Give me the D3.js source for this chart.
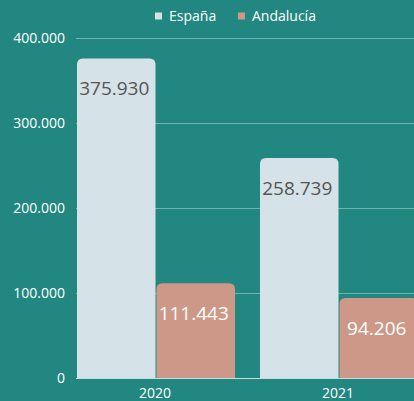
<!DOCTYPE html>
<html>
<head>
<meta charset="utf-8">
<script src="https://cdn.jsdelivr.net/npm/d3@7"></script>
<style>
  html, body { margin: 0; padding: 0; background: #218780; overflow: hidden; }
  svg { display: block; font-family: "Open Sans", sans-serif; }
</style>
</head>
<body>
<svg id="chart"></svg>
<script>
const width = 414;
const height = 401;

// data
const years = ["2020", "2021"];
const seriesNames = ["España", "Andalucía"];
const espana = [375930, 258739];
const andalucia = [111443, 94206];
const yTicks = [0, 100000, 200000, 300000, 400000];

const colors = { "España": "#d5e2e7", "Andalucía": "#cd9888" };
const labelColors = { "España": "#555555", "Andalucía": "#ffffff" };

const svg = d3.select("#chart")
  .attr("width", width)
  .attr("height", height)
  .attr("viewBox", [0, 0, width, height]);

const fmt = v => d3.format(",")(v).replace(/,/g, ".");

const x0 = d3.scaleBand()
  .domain(years)
  .range([77, 418])
  .paddingInner(0.1366)
  .paddingOuter(0);

const x1 = d3.scaleBand()
  .domain(seriesNames)
  .range([0, x0.bandwidth()])
  .paddingInner(0.012);

const y = d3.scaleLinear()
  .domain([0, 400000])
  .range([378, 38]);

// grid
svg.append("g")
  .selectAll("line")
  .data(yTicks.filter(d => d > 0))
  .join("line")
  .attr("x1", 76)
  .attr("x2", width)
  .attr("y1", d => y(d) + 0.5)
  .attr("y2", d => y(d) + 0.5)
  .attr("stroke", "#6fb3ad")
  .attr("stroke-width", 1);

// y labels
svg.append("g")
  .selectAll("text")
  .data(yTicks)
  .join("text")
  .attr("x", 65)
  .attr("y", d => y(d))
  .attr("dy", "0.35em")
  .attr("text-anchor", "end")
  .attr("fill", "#ffffff")
  .style("font-size", "14px")
  .text(d => fmt(d));

const rows = years.map((yr, i) => ({
  year: yr,
  values: [
    { key: "España", value: espana[i] },
    { key: "Andalucía", value: andalucia[i] }
  ]
}));

// bar with rounded top corners
function barPath(x, y0, w, h, r) {
  return `M${x},${y0 + h}V${y0 + r}Q${x},${y0} ${x + r},${y0}H${x + w - r}Q${x + w},${y0} ${x + w},${y0 + r}V${y0 + h}Z`;
}

const groups = svg.append("g")
  .selectAll("g")
  .data(rows)
  .join("g")
  .attr("transform", d => `translate(${x0(d.year)},0)`);

groups.selectAll("path")
  .data(d => d.values)
  .join("path")
  .attr("fill", d => colors[d.key])
  .attr("d", d => barPath(x1(d.key), y(d.value), x1.bandwidth(), y(0) - y(d.value), 6));

groups.selectAll("text.val")
  .data(d => d.values)
  .join("text")
  .attr("class", "val")
  .attr("x", d => x1(d.key) + x1.bandwidth() / 2 - 2)
  .attr("y", d => y(d.value) + 30)
  .attr("dy", "0.35em")
  .attr("text-anchor", "middle")
  .attr("fill", d => labelColors[d.key])
  .style("font-size", "19px")
  .text(d => fmt(d.value));

// baseline
svg.append("line")
  .attr("x1", 76)
  .attr("x2", width)
  .attr("y1", y(0) + 0.5)
  .attr("y2", y(0) + 0.5)
  .attr("stroke", "#c8dcda")
  .attr("stroke-width", 1);

// x labels
svg.append("g")
  .selectAll("text")
  .data(years)
  .join("text")
  .attr("x", d => x0(d) + x0.bandwidth() / 2 - 1)
  .attr("y", 398)
  .attr("text-anchor", "middle")
  .attr("fill", "#ffffff")
  .style("font-size", "14px")
  .text(d => d);

// legend
const legendX = [155, 238];
const legend = svg.append("g")
  .selectAll("g")
  .data(seriesNames)
  .join("g")
  .attr("transform", (d, i) => `translate(${legendX[i]},16)`);

legend.append("rect")
  .attr("x", 0)
  .attr("y", -3.5)
  .attr("width", 7)
  .attr("height", 7)
  .attr("fill", d => colors[d]);

legend.append("text")
  .attr("x", 14)
  .attr("dy", "0.35em")
  .attr("fill", "#ffffff")
  .style("font-size", "14px")
  .text(d => d);
</script>
</body>
</html>
